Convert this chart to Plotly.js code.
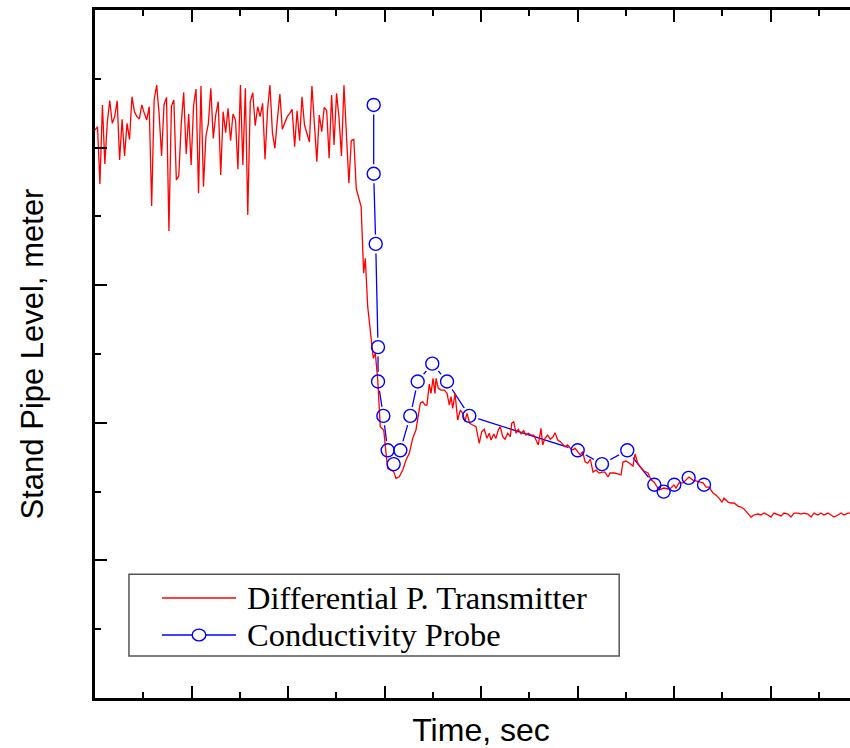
<!DOCTYPE html>
<html>
<head>
<meta charset="utf-8">
<script src="https://cdn.plot.ly/plotly-3.0.1.min.js"></script>
<style>html,body{margin:0;padding:0;overflow:hidden;background:#fff;}</style>
</head>
<body>
<div id="chart"></div>
<script>
// Differential P. Transmitter (time in sec, level in meter)
const dptTime = [0,2.6,5.1,7.7,10.2,12.8,15.3,17.9,20.4,23.0,25.5,28.1,30.6,33.2,35.8,38.3,40.9,43.4,46.0,48.5,
51.1,53.6,56.2,58.7,61.3,63.9,66.4,69.0,71.5,74.1,76.6,79.2,81.7,84.3,86.8,89.4,91.9,94.5,97.1,99.6,
102.2,104.7,107.3,109.8,112.4,114.9,117.5,120.0,122.6,125.1,127.7,130.3,132.8,135.4,137.9,140.5,143.0,145.6,148.1,150.7,
153.2,155.8,158.3,160.9,163.5,166.0,168.6,171.1,173.7,176.2,178.8,181.3,183.9,186.4,189.0,191.6,194.1,196.7,199.2,201.8,
204.3,206.9,209.4,212.0,214.5,217.1,219.6,222.2,224.8,227.3,229.9,232.4,235.0,237.5,240.1,242.6,245.2,247.7,250.3,252.8,
255.4,258.0,260.5,263.1,265.6,268.2,270.7,273.3,275.8,
278.4,280.1,282.6,286.0,288.4,290.5,293.0,295.6,299.2,301.6,303.3,306.0,309.5,311.9,315.3,318.9,322.3,325.7,329.2,332.6,
335.0,337.1,339.6,342.0,344.0,346.4,348.2,350.3,352.3,353.4,355.8,358.5,362.0,364.8,367.2,368.9,370.7,373.1,375.8,378.6,
381.0,383.4,385.5,388.3,391.4,394.8,398.2,
400.7,403.4,406.2,408.6,410.4,413.2,415.5,417.9,420.0,422.5,424.9,427.7,430.4,431.8,433.9,436.3,438.7,441.5,444.2,446.6,
449.0,451.8,454.6,457.0,459.4,462.2,463.9,466.3,469.1,471.8,474.3,476.7,479.5,482.2,484.7,487.0,489.8,492.5,495.0,497.4,
500.2,502.9,505.4,507.8,510.6,513.3,
516.1,519.2,522.3,525.4,528.5,531.6,533.7,537.8,542.0,545.1,547.2,550.3,553.4,557.5,559.6,562.7,565.8,568.9,573.1,576.2,
579.3,584.5,589.6,593.8,596.9,600.0,602.1,605.2,609.3,612.4,615.5,619.7,622.8,625.9,630.1,633.2,636.3,640.4,643.5,646.6,
649.7,651.8,656.0,659.1,662.2,666.3,669.4,672.5,676.7,679.8,682.9,687.0,690.2,693.3,697.4,700.5,703.6,707.8,710.9,714.0,
718.1,721.2,724.4,728.5,731.6,734.7,738.9,742.0,745.1,749.2,752.3,755.4,759.6,762.7,765.8,769.9,773.1,776.2,780.3,783.4,
791.7,800.0];
const dptLevel = [4.128,4.152,3.735,4.310,3.881,4.188,4.341,4.176,4.225,4.341,3.910,4.205,3.939,4.176,4.060,4.370,4.261,4.225,4.208,4.310,
4.249,4.201,4.297,3.576,4.346,4.455,4.249,3.939,4.310,4.365,3.394,4.302,4.346,3.765,3.794,4.176,4.401,3.953,4.244,3.874,
4.310,4.426,3.668,4.448,3.716,4.079,4.176,4.431,4.067,4.237,4.334,3.801,4.261,4.109,4.285,4.050,4.244,4.201,3.842,4.455,
3.874,4.431,3.510,4.334,4.399,4.159,4.297,4.225,4.322,3.915,4.273,4.455,4.104,3.995,4.205,4.390,4.133,4.176,4.225,4.249,
4.278,4.007,4.268,4.050,4.370,4.164,4.104,4.041,4.448,4.213,3.898,4.237,4.116,4.292,4.268,3.922,4.382,4.019,4.394,4.225,
3.939,4.453,4.055,3.741,4.050,4.060,3.704,3.632,3.570,
3.087,3.196,2.844,2.602,2.469,2.505,2.311,1.972,1.948,1.778,1.669,1.657,1.645,1.597,1.608,1.657,1.730,1.778,1.887,1.948,
2.044,2.142,2.153,2.129,2.129,2.282,2.214,2.323,2.214,2.323,2.251,2.238,2.238,2.214,2.129,2.190,2.105,2.214,2.020,2.093,
2.069,2.008,2.069,1.996,1.984,1.972,1.851,
1.935,1.953,1.887,1.924,1.875,1.919,1.887,1.948,1.972,1.899,1.880,1.924,1.899,1.996,2.008,1.924,1.953,1.919,1.943,1.911,
1.924,1.911,1.911,1.875,1.839,1.960,1.839,1.887,1.911,1.880,1.895,1.928,1.875,1.863,1.839,1.826,1.839,1.815,1.802,1.815,
1.790,1.766,1.790,1.717,1.706,1.735,
1.642,1.657,1.635,1.642,1.642,1.606,1.635,1.635,1.628,1.621,1.715,1.722,1.708,1.686,1.773,1.701,1.672,1.650,1.635,1.584,
1.570,1.512,1.526,1.519,1.526,1.548,1.526,1.563,1.563,1.584,1.606,1.584,1.577,1.570,1.563,1.533,1.533,1.490,1.475,1.453,
1.424,1.453,1.424,1.417,1.417,1.395,1.388,1.374,1.344,1.315,1.330,1.337,1.330,1.344,1.330,1.315,1.344,1.330,1.323,1.344,
1.337,1.315,1.344,1.344,1.337,1.344,1.337,1.315,1.344,1.330,1.344,1.330,1.344,1.330,1.315,1.330,1.344,1.330,1.344,1.344,
1.337,1.344];

// Conductivity Probe
const cpTime = [288.8,288.8,290.9,293.3,293.3,298.8,303.3,309.5,316.4,326.7,334.4,349.5,364.8,387.9,500.2,525.4,551.6,579.6,589.3,600.3,615.2,631.1];
const cpLevel = [4.31,3.81,3.30,2.55,2.30,2.05,1.80,1.70,1.80,2.05,2.30,2.43,2.30,2.05,1.80,1.70,1.80,1.55,1.50,1.55,1.60,1.55];

const seriesNames = ['Differential P. Transmitter', 'Conductivity Probe'];
const RED = '#ff0000', BLUE = '#0000ff';

const traces = [
  // blue connecting line
  {x: cpTime, y: cpLevel, mode: 'lines', line: {color: BLUE, width: 1.3}, showlegend: false, hoverinfo: 'skip'},
  // white masks that open small gaps in the line around each marker
  {x: cpTime, y: cpLevel, mode: 'markers', marker: {symbol: 'circle', size: 19, color: '#ffffff', line: {width: 0}}, showlegend: false, hoverinfo: 'skip'},
  // red transmitter trace
  {x: dptTime, y: dptLevel, mode: 'lines', name: seriesNames[0], line: {color: RED, width: 1.3}, showlegend: false},
  // blue open circles
  {x: cpTime, y: cpLevel, mode: 'markers', name: seriesNames[1], marker: {symbol: 'circle-open', size: 13, color: BLUE, line: {width: 1.4, color: BLUE}}, showlegend: false}
];

const axisCommon = {
  showgrid: false, zeroline: false, showticklabels: false,
  showline: true, linecolor: '#000', linewidth: 3, mirror: 'allticks',
  ticks: 'inside', ticklen: 12, tickwidth: 2, tickcolor: '#000'
};

// Legend box drawn in paper coordinates (Origin-style legend)
const LEG = {x0: 0.044, x1: 0.679, y0: 0.061, y1: 0.180, row1: 0.1453, row2: 0.0916,
             lineX0: 0.0868, lineX1: 0.1826, textX: 0.1943};
const shapes = [
  {type: 'rect', xref: 'paper', yref: 'paper', x0: LEG.x0, x1: LEG.x1, y0: LEG.y0, y1: LEG.y1,
   fillcolor: '#fff', line: {color: '#555', width: 1.5}, layer: 'above'},
  {type: 'line', xref: 'paper', yref: 'paper', x0: LEG.lineX0, x1: LEG.lineX1, y0: LEG.row1, y1: LEG.row1,
   line: {color: RED, width: 1.5}, layer: 'above'},
  {type: 'line', xref: 'paper', yref: 'paper', x0: LEG.lineX0, x1: LEG.lineX1, y0: LEG.row2, y1: LEG.row2,
   line: {color: BLUE, width: 1.3}, layer: 'above'},
  {type: 'circle', xref: 'paper', yref: 'paper',
   x0: (LEG.lineX0 + LEG.lineX1) / 2 - 0.0088, x1: (LEG.lineX0 + LEG.lineX1) / 2 + 0.0088,
   y0: LEG.row2 - 0.0085, y1: LEG.row2 + 0.0085,
   fillcolor: '#fff', line: {color: BLUE, width: 1.4}, layer: 'above'}
];
const legendFont = {family: '"Times New Roman", "Liberation Serif", serif', size: 32.5, color: '#000'};
const annotations = [
  {xref: 'paper', yref: 'paper', x: LEG.textX, y: LEG.row1, xanchor: 'left', yanchor: 'middle',
   text: seriesNames[0], showarrow: false, font: legendFont},
  {xref: 'paper', yref: 'paper', x: LEG.textX, y: LEG.row2, xanchor: 'left', yanchor: 'middle',
   text: seriesNames[1], showarrow: false, font: legendFont}
];

const layout = {
  width: 871, height: 748,
  margin: {l: 95, r: 4, t: 10, b: 50},
  paper_bgcolor: '#fff', plot_bgcolor: '#fff',
  font: {family: 'Arial, "Liberation Sans", sans-serif', color: '#000'},
  xaxis: Object.assign({}, axisCommon, {
    range: [0, 800], dtick: 100, tick0: 0,
    minor: {dtick: 50, ticks: 'inside', ticklen: 6, tickwidth: 2, tickcolor: '#000'},
    title: {text: 'Time, sec', font: {size: 32, family: 'Arial, "Liberation Sans", sans-serif'}, standoff: 29}
  }),
  yaxis: Object.assign({}, axisCommon, {
    range: [0, 5], dtick: 1, tick0: 0,
    minor: {dtick: 0.5, ticks: 'inside', ticklen: 6, tickwidth: 2, tickcolor: '#000'},
    title: {text: 'Stand Pipe Level, meter', font: {size: 31, family: 'Arial, "Liberation Sans", sans-serif'}, standoff: 40}
  }),
  showlegend: false,
  shapes: shapes,
  annotations: annotations
};

Plotly.newPlot('chart', traces, layout, {displayModeBar: false, staticPlot: true});
</script>
</body>
</html>
